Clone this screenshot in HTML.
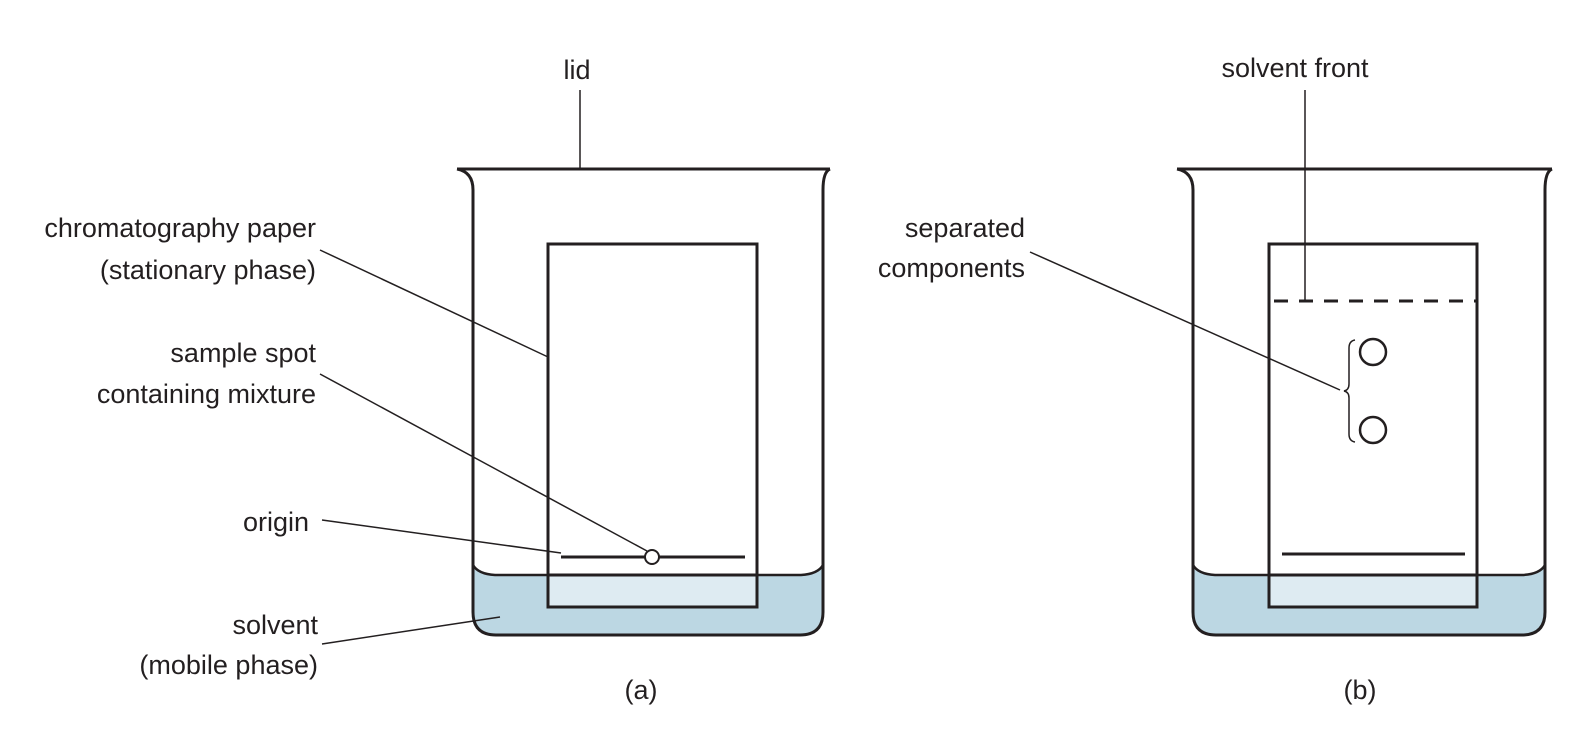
<!DOCTYPE html>
<html><head><style>html,body{margin:0;padding:0;background:#fff}svg{display:block}</style></head><body>
<svg width="1578" height="740" viewBox="0 0 1578 740" xmlns="http://www.w3.org/2000/svg" font-family="Liberation Sans Narrow, Liberation Sans, sans-serif" font-size="27" fill="#231f20">
<!-- Beaker A -->
<g stroke="#231f20" stroke-width="3" fill="none">
  <path d="M473,565 Q473,572 490,574 L806,574 Q823,572 823,565 L823,612 Q823,635 800,635 L496,635 Q473,635 473,612 Z" fill="#bcd7e3" stroke="none"/>
  <path d="M473,565 Q478,574 495,575 L801,575 Q818,574 823,565" stroke-width="2.5"/>
  <path d="M457,169 L830,169 M457,169 Q473,172 473,190 L473,612 Q473,635 496,635 L800,635 Q823,635 823,612 L823,190 Q823,172 830,169"/>
  <rect x="548" y="575" width="209" height="32" fill="#deebf2" stroke="none"/>
  <rect x="548" y="244" width="209" height="363"/>
  <line x1="548" y1="575" x2="757" y2="575"/>
  <line x1="561" y1="557" x2="745" y2="557"/>
  <circle cx="652" cy="557" r="7" fill="#fff" stroke-width="2"/>
</g>
<!-- Beaker B -->
<g stroke="#231f20" stroke-width="3" fill="none">
  <path d="M1193,565 Q1193,572 1210,574 L1528,574 Q1545,572 1545,565 L1545,612 Q1545,635 1522,635 L1216,635 Q1193,635 1193,612 Z" fill="#bcd7e3" stroke="none"/>
  <path d="M1193,565 Q1198,574 1215,575 L1523,575 Q1540,574 1545,565" stroke-width="2.5"/>
  <path d="M1177,169 L1552,169 M1177,169 Q1193,172 1193,190 L1193,612 Q1193,635 1216,635 L1522,635 Q1545,635 1545,612 L1545,190 Q1545,172 1552,169"/>
  <rect x="1269" y="575" width="208" height="32" fill="#deebf2" stroke="none"/>
  <rect x="1269" y="244" width="208" height="363"/>
  <line x1="1269" y1="575" x2="1477" y2="575"/>
  <line x1="1282" y1="554" x2="1465" y2="554"/>
  <line x1="1269" y1="301" x2="1477" y2="301" stroke-dasharray="14,11" stroke-dashoffset="-5"/>
  <circle cx="1373" cy="352" r="13" stroke-width="2.5"/>
  <circle cx="1373" cy="430" r="13" stroke-width="2.5"/>
  <path d="M1355,340 Q1349,341 1349,348 L1349,384 Q1349,390 1344,391 Q1349,392 1349,398 L1349,434 Q1349,441 1355,442" stroke-width="1.5"/>
</g>
<!-- leader lines -->
<g stroke="#231f20" stroke-width="1.5">
  <line x1="580" y1="90" x2="580" y2="169"/>
  <line x1="1305" y1="90" x2="1305" y2="301"/>
  <line x1="320" y1="250" x2="548" y2="357"/>
  <line x1="320" y1="374" x2="647" y2="551"/>
  <line x1="322" y1="520" x2="561" y2="553"/>
  <line x1="322" y1="644" x2="500" y2="617"/>
  <line x1="1030" y1="252" x2="1340" y2="390"/>
</g>
<!-- labels -->
<g text-anchor="middle">
  <text x="577" y="79">lid</text>
  <text x="1295" y="77">solvent front</text>
  <text x="641" y="699">(a)</text>
  <text x="1360" y="699">(b)</text>
</g>
<g text-anchor="end">
  <text x="316" y="237">chromatography paper</text>
  <text x="316" y="279">(stationary phase)</text>
  <text x="316" y="362">sample spot</text>
  <text x="316" y="403">containing mixture</text>
  <text x="309" y="531">origin</text>
  <text x="318" y="634">solvent</text>
  <text x="318" y="674">(mobile phase)</text>
  <text x="1025" y="237">separated</text>
  <text x="1025" y="277">components</text>
</g>
</svg>
</body></html>
